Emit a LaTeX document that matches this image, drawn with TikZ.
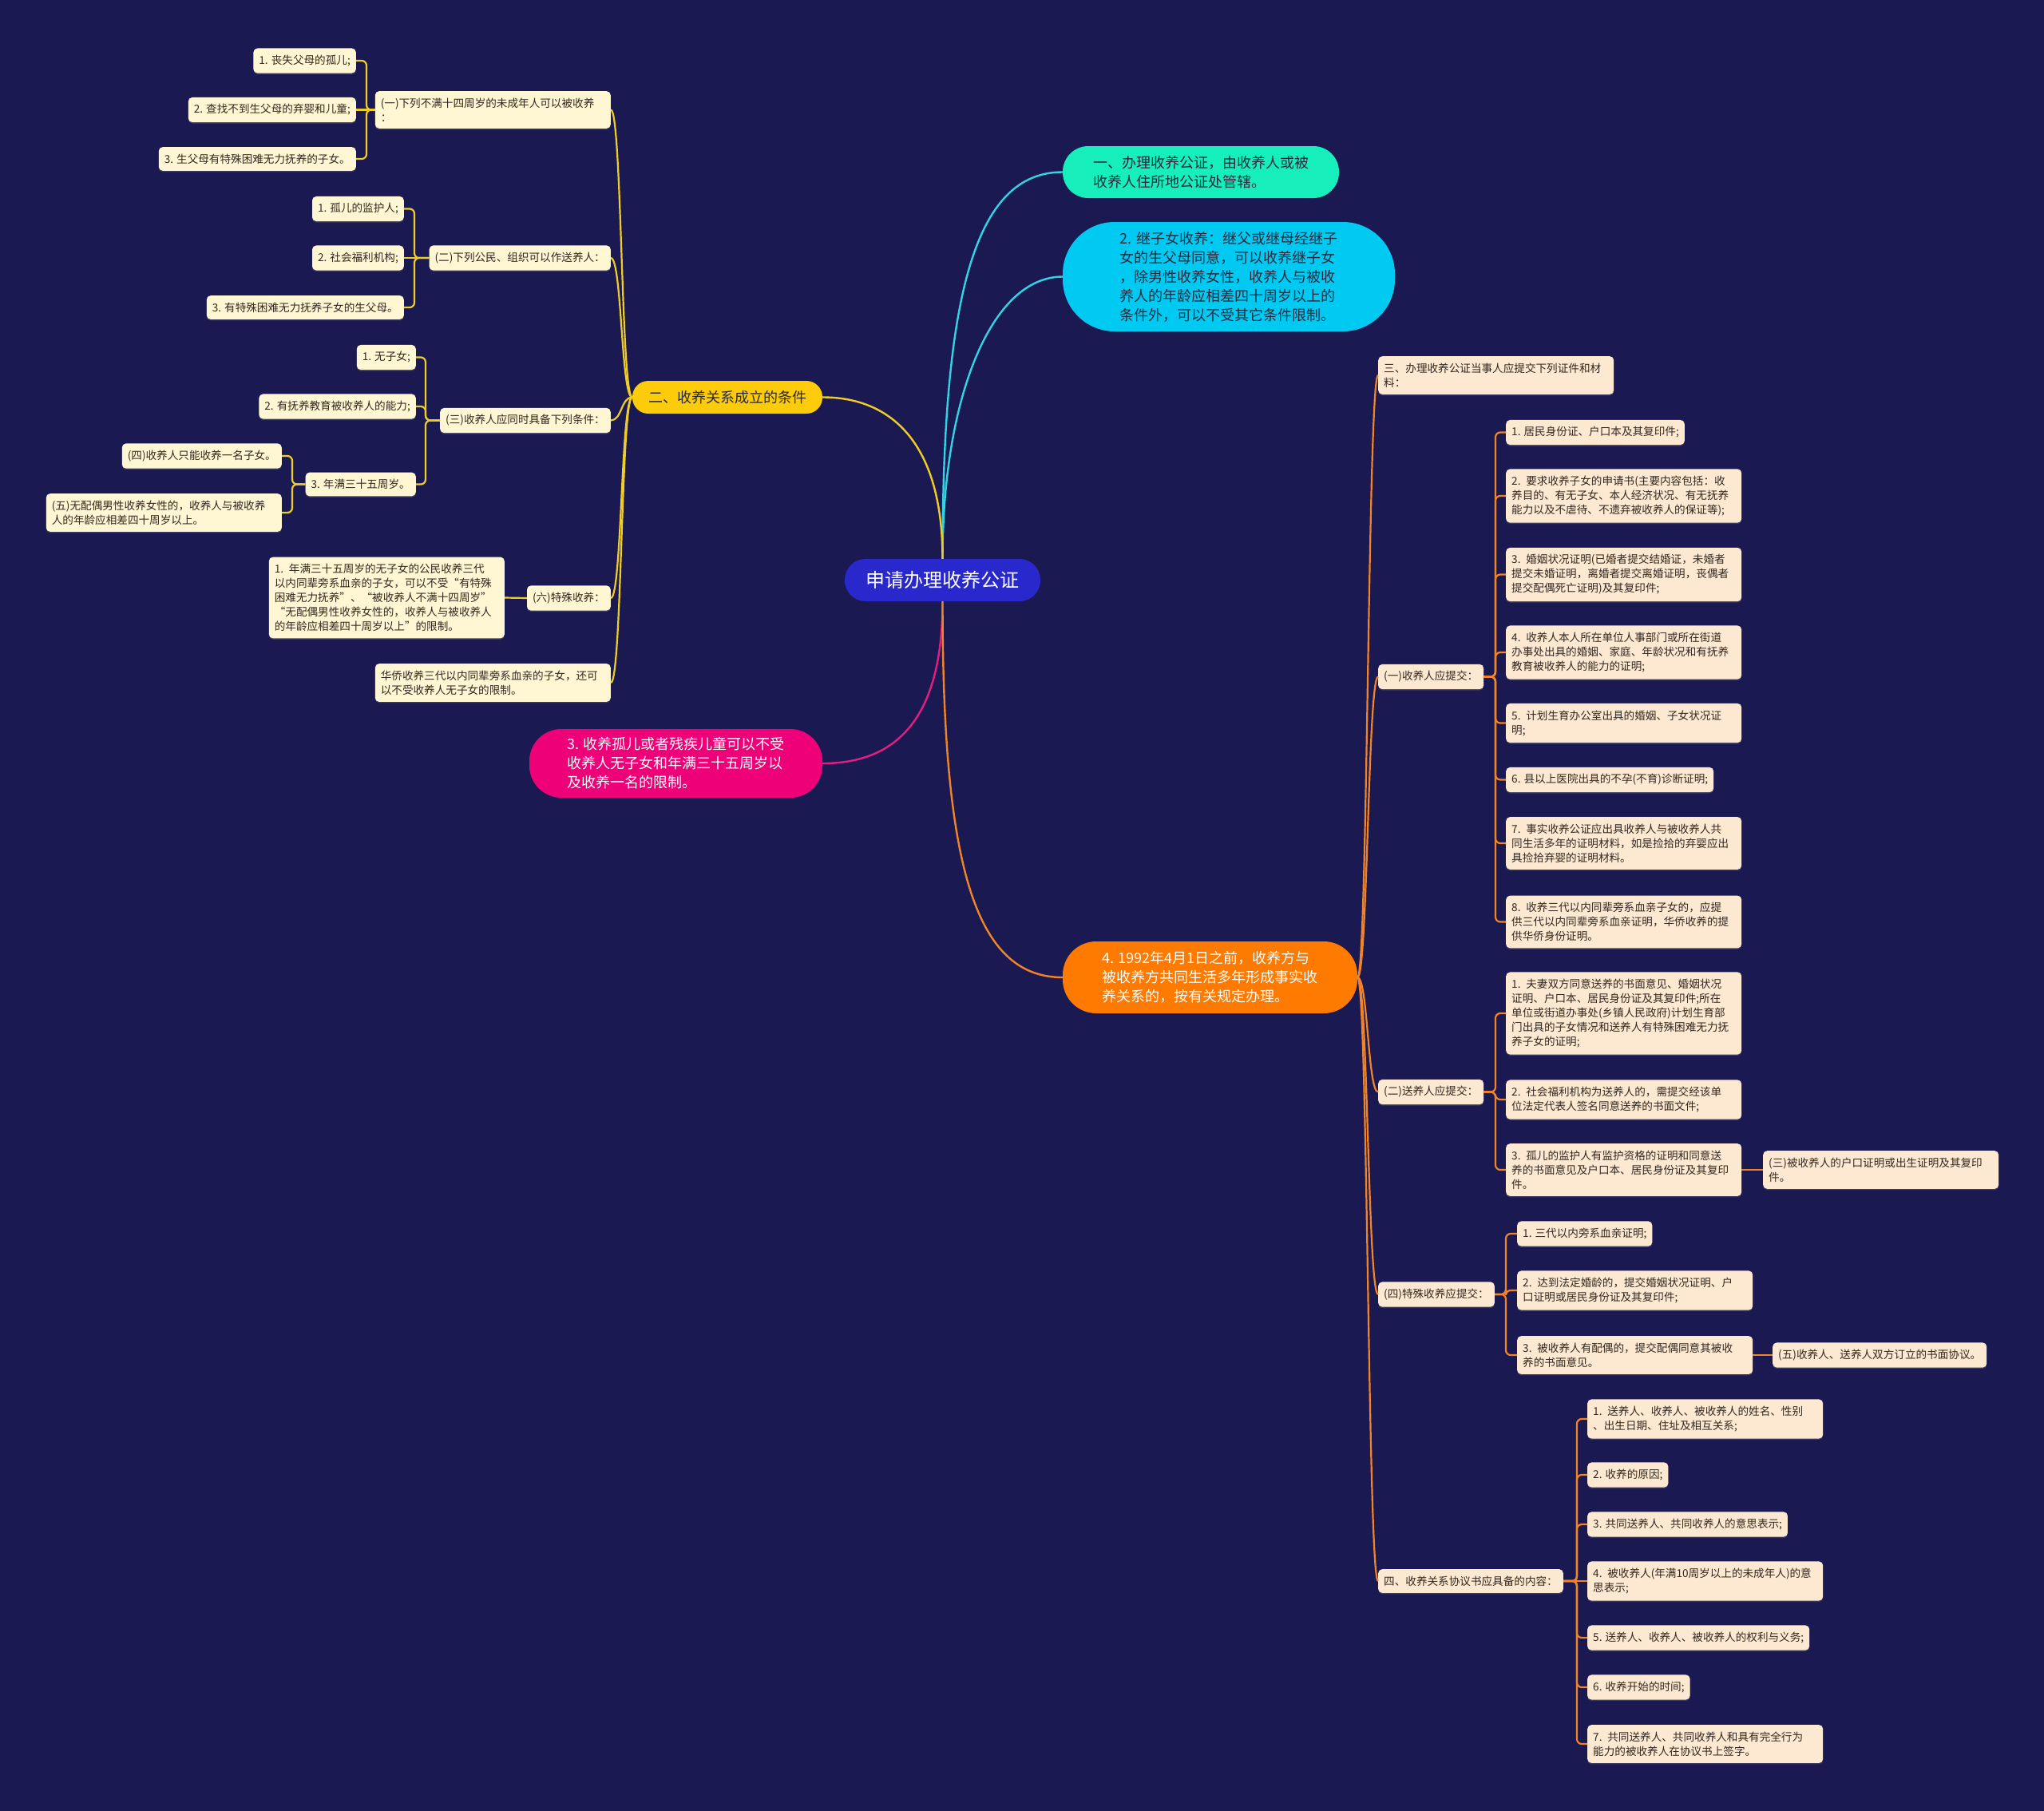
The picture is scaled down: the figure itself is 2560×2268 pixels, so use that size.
\documentclass[tikz,border=0pt]{standalone}
\usepackage{fontspec}
\setmainfont{Noto Sans CJK SC}
\usepackage{tikz}
\usetikzlibrary{shadows}
\definecolor{mybg}{RGB}{26,25,82}
\definecolor{myroot}{RGB}{40,40,205}
\definecolor{mygreen}{RGB}{22,238,188}
\definecolor{mycyan}{RGB}{0,202,242}
\definecolor{myyellow}{RGB}{252,204,10}
\definecolor{mypink}{RGB}{238,0,120}
\definecolor{myorange}{RGB}{255,122,0}
\definecolor{mydark}{RGB}{40,40,60}
\definecolor{mytext}{RGB}{50,40,30}
\definecolor{mycream}{RGB}{255,246,212}
\definecolor{mypeach}{RGB}{253,232,210}
\definecolor{lnteal}{RGB}{50,212,226}
\definecolor{lnyellow}{RGB}{238,205,40}
\definecolor{lnpink}{RGB}{226,30,130}
\definecolor{lnorange}{RGB}{242,132,40}
\newcommand{\leaffont}{\fontsize{13.6}{18}\selectfont}
\newcommand{\topicfont}{\fontsize{18}{24}\selectfont}
\tikzset{
  rootbox/.style={rectangle, fill=myroot, text=white, minimum width=245pt,
    minimum height=53pt, rounded corners=26pt, inner sep=0pt,
    font=\fontsize{24}{28}\selectfont},
  topicbox/.style={rectangle, align=left, inner sep=0pt, text=mydark,
    font=\topicfont},
  leafbox/.style={rectangle, fill=mycream, text=mytext, align=left,
    rounded corners=5pt, inner xsep=7pt, inner ysep=8.5pt, font=\leaffont,
    drop shadow={shadow xshift=0pt, shadow yshift=-1.5pt, opacity=0.35}},
  peachbox/.style={leafbox, fill=mypeach},
  widebox/.style={text width=281pt},
  mainline/.style={line width=2.4pt},
  ybranch/.style={line width=2.2pt, color=lnyellow, rounded corners=6pt},
  obranch/.style={line width=2.2pt, color=lnorange, rounded corners=6pt}
}
\begin{document}
\begin{tikzpicture}[x=1pt, y=-1pt]
  \fill[mybg] (0,0) rectangle (2560,2268);
  \useasboundingbox (0,0) rectangle (2560,2268);

  % Main topics
  \node[rootbox] (root) at (1180.5,726.5) {申请办理收养公证};
  \node[topicbox, fill=mygreen, minimum width=346pt, minimum height=65pt, rounded corners=32pt] (office) at (1504,215.5) {一、办理收养公证，由收养人或被\\收养人住所地公证处管辖。};
  \node[topicbox, fill=mycyan, minimum width=416pt, minimum height=137pt, rounded corners=65pt] (stepkid) at (1539,346.5) {2. 继子女收养：继父或继母经继子\\女的生父母同意，可以收养继子女\\，除男性收养女性，收养人与被收\\养人的年龄应相差四十周岁以上的\\条件外，可以不受其它条件限制。};
  \node[topicbox, fill=myyellow, minimum width=238pt, minimum height=41pt, rounded corners=20pt] (cond) at (911,497.5) {二、收养关系成立的条件};
  \node[topicbox, fill=mypink, text=white, minimum width=367pt, minimum height=86pt, rounded corners=40pt] (orphan) at (846.5,956) {3. 收养孤儿或者残疾儿童可以不受\\收养人无子女和年满三十五周岁以\\及收养一名的限制。};
  \node[topicbox, fill=myorange, text=white, minimum width=369pt, minimum height=90pt, rounded corners=42pt] (before92) at (1515.5,1224) {4. 1992年4月1日之前，收养方与\\被收养方共同生活多年形成事实收\\养关系的，按有关规定办理。};

  % Left: conditions
  \node[leafbox, widebox, anchor=east] (cond1) at (765,137.5) {(一)下列不满十四周岁的未成年人可以被收养\\：};
  \node[leafbox, anchor=east] (cond1a) at (446,76) {1. 丧失父母的孤儿;};
  \node[leafbox, anchor=east] (cond1b) at (446,137.5) {2. 查找不到生父母的弃婴和儿童;};
  \node[leafbox, anchor=east] (cond1c) at (446,199) {3. 生父母有特殊困难无力抚养的子女。};
  \node[leafbox, anchor=east] (cond2) at (765,323) {(二)下列公民、组织可以作送养人：};
  \node[leafbox, anchor=east] (cond2a) at (506,261.5) {1. 孤儿的监护人;};
  \node[leafbox, anchor=east] (cond2b) at (506,323) {2. 社会福利机构;};
  \node[leafbox, anchor=east] (cond2c) at (506,385) {3. 有特殊困难无力抚养子女的生父母。};
  \node[leafbox, anchor=east] (cond3) at (765,526.5) {(三)收养人应同时具备下列条件：};
  \node[leafbox, anchor=east] (cond3a) at (521,447.5) {1. 无子女;};
  \node[leafbox, anchor=east] (cond3b) at (521,509) {2. 有抚养教育被收养人的能力;};
  \node[leafbox, anchor=east] (cond3c) at (521,606.5) {3. 年满三十五周岁。};
  \node[leafbox, anchor=east] (cond3c1) at (353,571) {(四)收养人只能收养一名子女。};
  \node[leafbox, widebox, anchor=east] (cond3c2) at (353,642) {(五)无配偶男性收养女性的，收养人与被收养\\人的年龄应相差四十周岁以上。};
  \node[leafbox, anchor=east] (cond6) at (765,749) {(六)特殊收养：};
  \node[leafbox, widebox, anchor=east] (cond6a) at (632,748.5) {1. 年满三十五周岁的无子女的公民收养三代\\以内同辈旁系血亲的子女，可以不受“有特殊\\困难无力抚养”、“被收养人不满十四周岁”\\“无配偶男性收养女性的，收养人与被收养人\\的年龄应相差四十周岁以上”的限制。};
  \node[leafbox, widebox, anchor=east] (overseas) at (765,855) {华侨收养三代以内同辈旁系血亲的子女，还可\\以不受收养人无子女的限制。};

  % Right: documents
  \node[peachbox, widebox, anchor=west] (docs) at (1726,470) {三、办理收养公证当事人应提交下列证件和材\\料：};
  \node[peachbox, anchor=west] (adopter) at (1726,847.5) {(一)收养人应提交：};
  \node[peachbox, anchor=west] (adopter1) at (1886,541.5) {1. 居民身份证、户口本及其复印件;};
  \node[peachbox, widebox, anchor=west] (adopter2) at (1886,621) {2. 要求收养子女的申请书(主要内容包括：收\\养目的、有无子女、本人经济状况、有无抚养\\能力以及不虐待、不遗弃被收养人的保证等);};
  \node[peachbox, widebox, anchor=west] (adopter3) at (1886,719.5) {3. 婚姻状况证明(已婚者提交结婚证，未婚者\\提交未婚证明，离婚者提交离婚证明，丧偶者\\提交配偶死亡证明)及其复印件;};
  \node[peachbox, widebox, anchor=west] (adopter4) at (1886,817) {4. 收养人本人所在单位人事部门或所在街道\\办事处出具的婚姻、家庭、年龄状况和有抚养\\教育被收养人的能力的证明;};
  \node[peachbox, widebox, anchor=west] (adopter5) at (1886,905.5) {5. 计划生育办公室出具的婚姻、子女状况证\\明;};
  \node[peachbox, anchor=west] (adopter6) at (1886,976.5) {6. 县以上医院出具的不孕(不育)诊断证明;};
  \node[peachbox, widebox, anchor=west] (adopter7) at (1886,1056) {7. 事实收养公证应出具收养人与被收养人共\\同生活多年的证明材料，如是捡拾的弃婴应出\\具捡拾弃婴的证明材料。};
  \node[peachbox, widebox, anchor=west] (adopter8) at (1886,1154.5) {8. 收养三代以内同辈旁系血亲子女的，应提\\供三代以内同辈旁系血亲证明，华侨收养的提\\供华侨身份证明。};
  \node[peachbox, anchor=west] (giver) at (1726,1367.5) {(二)送养人应提交：};
  \node[peachbox, widebox, anchor=west] (giver1) at (1886,1269) {1. 夫妻双方同意送养的书面意见、婚姻状况\\证明、户口本、居民身份证及其复印件;所在\\单位或街道办事处(乡镇人民政府)计划生育部\\门出具的子女情况和送养人有特殊困难无力抚\\养子女的证明;};
  \node[peachbox, widebox, anchor=west] (giver2) at (1886,1377) {2. 社会福利机构为送养人的，需提交经该单\\位法定代表人签名同意送养的书面文件;};
  \node[peachbox, widebox, anchor=west] (giver3) at (1886,1465) {3. 孤儿的监护人有监护资格的证明和同意送\\养的书面意见及户口本、居民身份证及其复印\\件。};
  \node[peachbox, widebox, anchor=west] (giver3a) at (2208,1465) {(三)被收养人的户口证明或出生证明及其复印\\件。};
  \node[peachbox, anchor=west] (special) at (1726,1621) {(四)特殊收养应提交：};
  \node[peachbox, anchor=west] (special1) at (1900,1545) {1. 三代以内旁系血亲证明;};
  \node[peachbox, widebox, anchor=west] (special2) at (1900,1616) {2. 达到法定婚龄的，提交婚姻状况证明、户\\口证明或居民身份证及其复印件;};
  \node[peachbox, widebox, anchor=west] (special3) at (1900,1697) {3. 被收养人有配偶的，提交配偶同意其被收\\养的书面意见。};
  \node[peachbox, anchor=west] (special3a) at (2220,1697) {(五)收养人、送养人双方订立的书面协议。};
  \node[peachbox, anchor=west] (pact) at (1726,1980) {四、收养关系协议书应具备的内容：};
  \node[peachbox, widebox, anchor=west] (pact1) at (1988,1777) {1. 送养人、收养人、被收养人的姓名、性别\\、出生日期、住址及相互关系;};
  \node[peachbox, anchor=west] (pact2) at (1988,1847) {2. 收养的原因;};
  \node[peachbox, anchor=west] (pact3) at (1988,1909) {3. 共同送养人、共同收养人的意思表示;};
  \node[peachbox, widebox, anchor=west] (pact4) at (1988,1980) {4. 被收养人(年满10周岁以上的未成年人)的意\\思表示;};
  \node[peachbox, anchor=west] (pact5) at (1988,2051) {5. 送养人、收养人、被收养人的权利与义务;};
  \node[peachbox, anchor=west] (pact6) at (1988,2113) {6. 收养开始的时间;};
  \node[peachbox, widebox, anchor=west] (pact7) at (1988,2184) {7. 共同送养人、共同收养人和具有完全行为\\能力的被收养人在协议书上签字。};

  % Root connections
  \draw[mainline, lnteal] (root.north) .. controls +(0,-330) and +(-110,0) .. (office.west);
  \draw[mainline, lnteal] (root.north) .. controls +(0,-200) and +(-90,0) .. (stepkid.west);
  \draw[mainline, lnyellow] (root.north) .. controls +(0,-140) and +(90,0) .. (cond.east);
  \draw[mainline, lnpink] (root.south) .. controls +(0,150) and +(90,0) .. (orphan.east);
  \draw[mainline, lnorange] (root.south) .. controls +(0,330) and +(-110,0) .. (before92.west);

  % Left branches
  \draw[ybranch] (cond.west) .. controls +(-14,0) and +(14,0) .. (cond1.east);
  \draw[ybranch] (cond.west) .. controls +(-14,0) and +(14,0) .. (cond2.east);
  \draw[ybranch] (cond.west) .. controls +(-14,0) and +(14,0) .. (cond3.east);
  \draw[ybranch] (cond.west) .. controls +(-14,0) and +(14,0) .. (cond6.east);
  \draw[ybranch] (cond.west) .. controls +(-14,0) and +(14,0) .. (overseas.east);
  \draw[ybranch] (cond1a.east) -- ++(13,0) |- (cond1.west);
  \draw[ybranch] (cond1b.east) -- (cond1.west);
  \draw[ybranch] (cond1c.east) -- ++(13,0) |- (cond1.west);
  \draw[ybranch] (cond2a.east) -- ++(13,0) |- (cond2.west);
  \draw[ybranch] (cond2b.east) -- (cond2.west);
  \draw[ybranch] (cond2c.east) -- ++(13,0) |- (cond2.west);
  \draw[ybranch] (cond3a.east) -- ++(12,0) |- (cond3.west);
  \draw[ybranch] (cond3b.east) -- ++(12,0) |- (cond3.west);
  \draw[ybranch] (cond3c.east) -- ++(12,0) |- (cond3.west);
  \draw[ybranch] (cond3c1.east) -- ++(13,0) |- (cond3c.west);
  \draw[ybranch] (cond3c2.east) -- ++(13,0) |- (cond3c.west);
  \draw[ybranch] (cond6a.east) -- (cond6.west);

  % Right branches
  \draw[obranch] (before92.east) .. controls +(13,0) and +(-13,0) .. (docs.west);
  \draw[obranch] (before92.east) .. controls +(13,0) and +(-13,0) .. (adopter.west);
  \draw[obranch] (before92.east) .. controls +(13,0) and +(-13,0) .. (giver.west);
  \draw[obranch] (before92.east) .. controls +(13,0) and +(-13,0) .. (special.west);
  \draw[obranch] (before92.east) .. controls +(13,0) and +(-13,0) .. (pact.west);
  \draw[obranch] (adopter1.west) -- ++(-13,0) |- (adopter.east);
  \draw[obranch] (adopter2.west) -- ++(-13,0) |- (adopter.east);
  \draw[obranch] (adopter3.west) -- ++(-13,0) |- (adopter.east);
  \draw[obranch] (adopter4.west) -- ++(-13,0) |- (adopter.east);
  \draw[obranch] (adopter5.west) -- ++(-13,0) |- (adopter.east);
  \draw[obranch] (adopter6.west) -- ++(-13,0) |- (adopter.east);
  \draw[obranch] (adopter7.west) -- ++(-13,0) |- (adopter.east);
  \draw[obranch] (adopter8.west) -- ++(-13,0) |- (adopter.east);
  \draw[obranch] (giver1.west) -- ++(-13,0) |- (giver.east);
  \draw[obranch] (giver2.west) -- ++(-13,0) |- (giver.east);
  \draw[obranch] (giver3.west) -- ++(-13,0) |- (giver.east);
  \draw[obranch] (giver3.east) -- (giver3a.west);
  \draw[obranch] (special1.west) -- ++(-14,0) |- (special.east);
  \draw[obranch] (special2.west) -- ++(-14,0) |- (special.east);
  \draw[obranch] (special3.west) -- ++(-14,0) |- (special.east);
  \draw[obranch] (special3.east) -- (special3a.west);
  \draw[obranch] (pact1.west) -- ++(-13,0) |- (pact.east);
  \draw[obranch] (pact2.west) -- ++(-13,0) |- (pact.east);
  \draw[obranch] (pact3.west) -- ++(-13,0) |- (pact.east);
  \draw[obranch] (pact4.west) -- (pact.east);
  \draw[obranch] (pact5.west) -- ++(-13,0) |- (pact.east);
  \draw[obranch] (pact6.west) -- ++(-13,0) |- (pact.east);
  \draw[obranch] (pact7.west) -- ++(-13,0) |- (pact.east);
\end{tikzpicture}
\end{document}
